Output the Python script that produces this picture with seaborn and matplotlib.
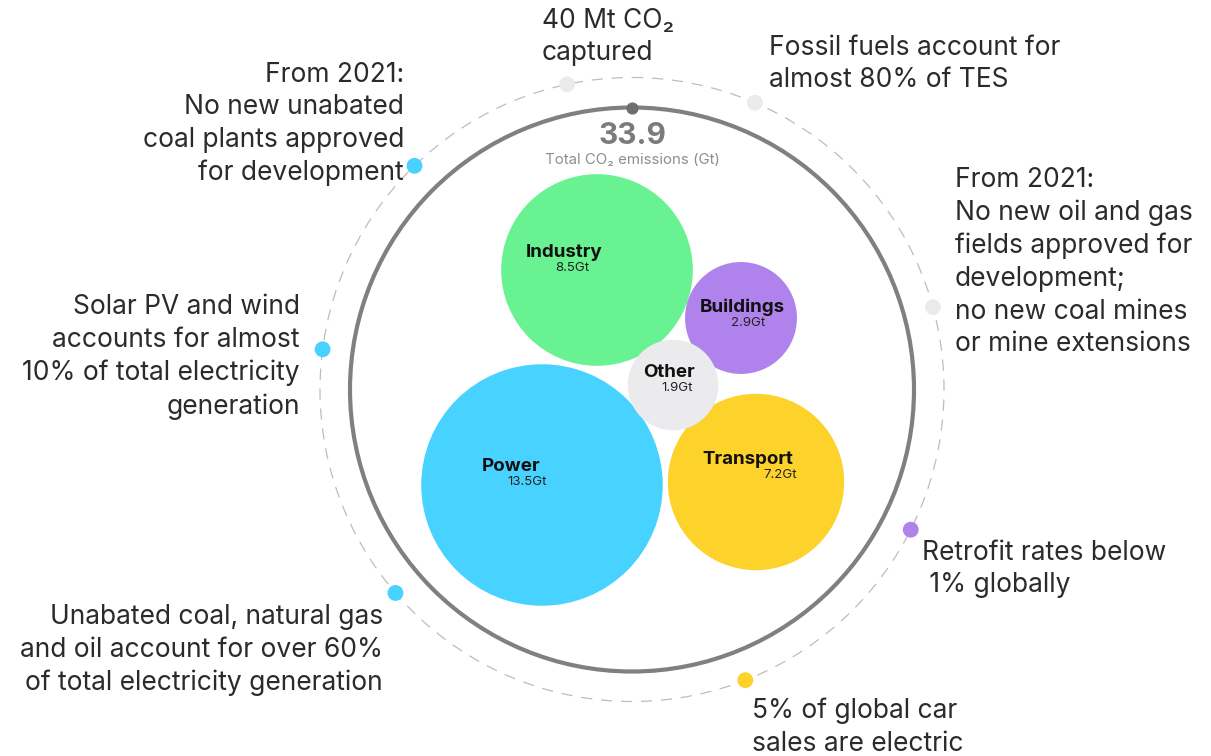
import numpy as np
import pandas as pd
import seaborn as sns
import matplotlib
matplotlib.use("Agg")
import matplotlib.pyplot as plt
from matplotlib.patches import Circle

# CO2 emissions by sector (Gt)
sectors = ["Power", "Industry", "Transport", "Buildings", "Other"]
emissions = [13.5, 8.5, 7.2, 2.9, 1.9]
total_emissions = 33.9
sector_colors = ["#48D2FF", "#68F291", "#FDD22B", "#B083EC", "#EBEBED"]

# milestones around the ring, coloured by the sector they belong to
milestone_text = [
    "40 Mt CO\u2082\ncaptured",
    "Fossil fuels account for\nalmost 80% of TES",
    "From 2021:\nNo new oil and gas\nfields approved for\ndevelopment;\nno new coal mines\nor mine extensions",
    "Retrofit rates below\n 1% globally",
    "5% of global car\nsales are electric",
    "Unabated coal, natural gas\nand oil account for over 60%\nof total electricity generation",
    "Solar PV and wind\naccounts for almost\n10% of total electricity\ngeneration",
    "From 2021:\nNo new unabated\ncoal plants approved\nfor development",
]
milestone_sector = ["Other", "Other", "Other", "Buildings", "Transport", "Power", "Power", "Power"]

# ---- layout (pixels) ----
W, H = 1211, 756
CX, CY = 632, 389.5
R_INNER, R_OUTER = 282, 312
PX_PER_GT = 1080  # bubble area (px^2) per Gt

bubble_xy = {"Power": (542, 485), "Industry": (597, 270), "Transport": (756, 482),
             "Buildings": (741, 318), "Other": (673, 385)}
# (x centre, baseline y) of the sector name, x centre of the value below it
name_xy = {"Power": (511, 471), "Industry": (564, 257), "Transport": (748, 464),
           "Buildings": (742, 312), "Other": (669, 377)}
value_x = {"Power": 527, "Industry": 572, "Transport": 780, "Buildings": 748, "Other": 677}

milestone_angle = [102, 66.8, 15.3, -26.7, -68.7, 220.7, 172.6, 134.2]
text_xy = [(542, 37, "left"), (769, 64, "left"), (955, 262, "left"), (922, 569, "left"),
           (752, 727, "left"), (383, 650, "right"), (300, 357, "right"), (404, 124, "right")]

palette = dict(zip(sectors, sector_colors))
font = ["Inter", "DejaVu Sans"]

sns.set_style("white")
plt.rcParams["font.family"] = font

fig = plt.figure(figsize=(W / 100, H / 100), dpi=100)
ax = fig.add_axes([0, 0, 1, 1])
ax.set_xlim(0, W)
ax.set_ylim(H, 0)
ax.axis("off")

# rings
ax.add_patch(Circle((CX, CY), R_OUTER, fill=False, ec="#BDBDBD", lw=0.9,
                    ls=(0, (9, 7)), zorder=1))
ax.add_patch(Circle((CX, CY), R_INNER, fill=False, ec="#808080", lw=3.0, zorder=2))

# sector bubbles, area proportional to emissions
df = pd.DataFrame({"sector": sectors, "emissions": emissions})
df["x"] = [bubble_xy[s][0] for s in sectors]
df["y"] = [bubble_xy[s][1] for s in sectors]
r_max = np.sqrt(PX_PER_GT * max(emissions))
s_max = (2 * r_max * 72 / 100) ** 2
sns.scatterplot(data=df, x="x", y="y", hue="sector", palette=palette,
                size="emissions", sizes=(0, s_max), size_norm=(0, max(emissions)),
                linewidth=0, legend=False, ax=ax, zorder=3)

for s, v in zip(sectors, emissions):
    nx, ny = name_xy[s]
    ax.text(nx, ny, s, ha="center", va="baseline", fontsize=13.5,
            fontweight="bold", color="#111111", zorder=5)
    ax.text(value_x[s], ny + 5, f"{v}Gt", ha="center", va="top", fontsize=9.5,
            color="#222222", zorder=5)

# milestone dots on the dashed ring
ang = np.radians(milestone_angle)
mdf = pd.DataFrame({"sector": milestone_sector,
                    "x": CX + R_OUTER * np.cos(ang),
                    "y": CY - R_OUTER * np.sin(ang)})
sns.scatterplot(data=mdf, x="x", y="y", hue="sector", palette=palette, s=130,
                linewidth=0, legend=False, ax=ax, zorder=4)

for t, (x, y, ha) in zip(milestone_text, text_xy):
    ax.text(x, y, t, ha=ha, va="center", multialignment=ha, fontsize=19,
            color="#2B2B2B", linespacing=1.33, zorder=5)

# total
ax.scatter([CX], [CY - R_INNER], s=60, color="#6E6E6E", zorder=4)
ax.text(CX, 136, f"{total_emissions}", ha="center", va="center", fontsize=21.5,
        fontweight="bold", color="#7B7B7B")
ax.text(CX, 160, "Total CO\u2082 emissions (Gt)", ha="center", va="center",
        fontsize=10.8, color="#8E8E8E")

fig.savefig("out.png", dpi=100)
